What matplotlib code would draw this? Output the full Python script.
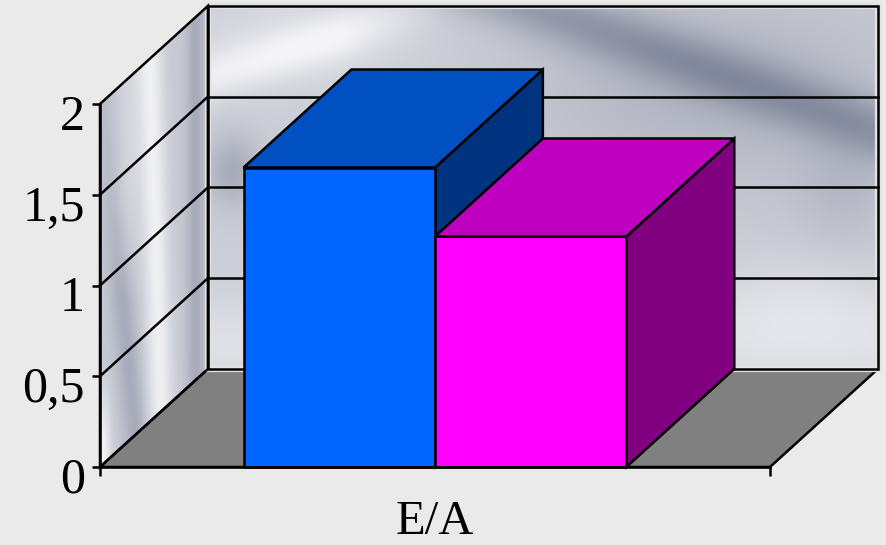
import numpy as np
import matplotlib
matplotlib.use("Agg")
import matplotlib.pyplot as plt
from matplotlib.patches import Polygon
from matplotlib.transforms import ScaledTranslation

# ---- chart data ----
category = "E/A"
series_values = [1.65, 1.27]
front_colors = ["#0066FF", "#FF00FF"]
top_colors = ["#0050C2", "#C000C0"]
side_colors = ["#00337F", "#800080"]
y_ticks = [0, 0.5, 1, 1.5, 2]
y_tick_labels = ["0", "0,5", "1", "1,5", "2"]

# ---- layout / style ----
GAP = 1.5             # gap width relative to one bar
DX, DY = 0.161, 0.54  # oblique depth offset (axis units)
BG = "#EAEAEA"
LW = 1.8

plt.rcParams["font.family"] = ["Liberation Serif", "DejaVu Serif"]

W_PX, H_PX = 887, 545
fig = plt.figure(figsize=(W_PX / 100, H_PX / 100), dpi=100, facecolor=BG)
ax = fig.add_axes([100 / W_PX, 78 / H_PX, 670 / W_PX, 363 / H_PX])
ax.set_facecolor("none")
YMAX = y_ticks[-1]


def to_px(x, y):
    """Axis coordinates -> approximate pixel position (for shading only)."""
    return 100 + x * 670, 467 - y * 181.5


def gauss(d, s):
    return np.exp(-(d / s) ** 2)


def blob(PX, PY, cx, cy, sx, sy):
    return np.exp(-(((PX - cx) / sx) ** 2 + ((PY - cy) / sy) ** 2))


def shade_rgba(intensity, alpha=None):
    dark = np.array([0.42, 0.45, 0.54])
    light = np.array([0.96, 0.96, 0.97])
    i = np.clip(intensity, 0, 1)[..., None]
    rgb = dark + i * (light - dark)
    a = np.ones(intensity.shape + (1,)) if alpha is None else alpha[..., None]
    return np.concatenate([rgb, a], axis=-1)


# ---- left wall (brushed metal shading) ----
xs = np.linspace(0, DX, 200)
ys = np.linspace(0, YMAX + DY, 700)
XX, YY = np.meshgrid(xs, ys)
PX, PY = to_px(XX, YY)
lower = np.clip((PY - 180) / 120, 0, 1)
bottom = np.clip((PY - 360) / 80, 0, 1)
inten = (0.66
         + 0.30 * gauss(PX - (156 + 0.03 * (PY - 250)), 13)
         - 0.22 * gauss(PX - (112 + 0.10 * (PY - 200)), 12) * (0.4 + 0.6 * lower)
         - 0.22 * gauss(PX - 196, 9)
         + 0.10 * gauss(PX - 130, 14) * (1 - lower)
         + 0.32 * gauss(PX - 102, 9) * bottom)
inside = (YY >= XX * DY / DX - 1e-9) & (YY <= YMAX + XX * DY / DX + 1e-9)
ax.imshow(shade_rgba(inten, inside.astype(float)), extent=[0, DX, 0, YMAX + DY],
          origin="lower", aspect="auto", interpolation="bilinear",
          clip_on=False, zorder=1)

# ---- back wall (brushed metal shading) ----
xs = np.linspace(DX, 1 + DX, 500)
ys = np.linspace(DY, YMAX + DY, 300)
XX, YY = np.meshgrid(xs, ys)
PX, PY = to_px(XX, YY)
p0 = np.array([545.0, 10.0]); p1 = np.array([890.0, 135.0])
dvec = (p1 - p0) / np.linalg.norm(p1 - p0)
dist = np.abs((PX - p0[0]) * dvec[1] - (PY - p0[1]) * dvec[0])
q0 = np.array([215.0, 75.0]); q1 = np.array([400.0, 15.0])
qvec = (q1 - q0) / np.linalg.norm(q1 - q0)
qdist = np.abs((PX - q0[0]) * qvec[1] - (PY - q0[1]) * qvec[0])
inten = (0.70
         - 0.36 * gauss(dist, 30)
         - 0.18 * blob(PX, PY, 720, 90, 200, 100)
         + 0.22 * gauss(qdist, 25) * np.clip((460 - PX) / 120, 0, 1)
         + 0.10 * blob(PX, PY, 300, 40, 120, 50)
         - 0.26 * blob(PX, PY, 232, 170, 26, 35)
         - 0.12 * blob(PX, PY, 845, 190, 50, 60)
         + 0.14 * gauss(PY - 345, 50)
         + 0.10 * blob(PX, PY, 800, 300, 90, 45))
ax.imshow(shade_rgba(inten), extent=[DX, 1 + DX, DY, YMAX + DY],
          origin="lower", aspect="auto", interpolation="bilinear",
          clip_on=False, zorder=1)

# ---- floor and wall outlines ----
floor = Polygon([(0, 0), (1, 0), (1 + DX, DY), (DX, DY)], closed=True,
                facecolor="#808080", edgecolor="black", lw=LW,
                clip_on=False, zorder=2)
ax.add_patch(floor)

back = [(DX, DY), (1 + DX, DY), (1 + DX, YMAX + DY), (DX, YMAX + DY)]
ax.add_patch(Polygon(back, closed=True, facecolor="none", edgecolor="#E2E2E2",
                     lw=4.5, clip_on=False, zorder=2))
ax.add_patch(Polygon(back, closed=True, facecolor="none", edgecolor="black",
                     lw=LW, clip_on=False, zorder=2.1))
left = [(0, 0), (DX, DY), (DX, YMAX + DY), (0, YMAX)]
ax.add_patch(Polygon(left, closed=True, facecolor="none", edgecolor="black",
                     lw=LW, clip_on=False, zorder=2.1))

# gridlines on both walls
for v in y_ticks[1:-1]:
    ax.plot([0, DX], [v, v + DY], color="black", lw=LW, clip_on=False, zorder=2.1)
    ax.plot([DX, 1 + DX], [v + DY, v + DY], color="black", lw=LW,
            clip_on=False, zorder=2.1)

# ---- 3D bars ----
bar_w = 1 / (2 + GAP)
for i, v in enumerate(series_values):
    x0 = GAP / 2 * bar_w + i * bar_w
    x1 = x0 + bar_w
    z = 3 + i
    side = [(x1, 0), (x1 + DX, DY), (x1 + DX, v + DY), (x1, v)]
    front = [(x0, 0), (x1, 0), (x1, v), (x0, v)]
    top = [(x0, v), (x1, v), (x1 + DX, v + DY), (x0 + DX, v + DY)]
    for pts, col in ((side, side_colors[i]), (front, front_colors[i]),
                     (top, top_colors[i])):
        ax.add_patch(Polygon(pts, closed=True, facecolor=col, edgecolor="black",
                             lw=LW, joinstyle="miter", clip_on=False, zorder=z))

# ---- axes ----
ax.set_xlim(0, 1)
ax.set_ylim(0, YMAX)
for s in ("top", "right"):
    ax.spines[s].set_visible(False)
for s in ("left", "bottom"):
    ax.spines[s].set_linewidth(LW)
    ax.spines[s].set_zorder(6)

ax.set_yticks(y_ticks, y_tick_labels)
ax.tick_params(axis="y", direction="out", length=6, width=LW, pad=5,
               labelsize=36, colors="black")
ax.set_xticks([0.5], [category])
ax.set_xticks([0, 1], minor=True)
ax.tick_params(axis="x", which="major", length=0, pad=24, labelsize=35)
ax.tick_params(axis="x", which="minor", direction="out", length=6.5, width=LW)

# numbers sit slightly below their gridlines
shift = ScaledTranslation(0, -0.08, fig.dpi_scale_trans)
for t in ax.yaxis.get_major_ticks():
    t.label1.set_transform(t.label1.get_transform() + shift)

fig.savefig("out.png", dpi=100, facecolor=BG)
